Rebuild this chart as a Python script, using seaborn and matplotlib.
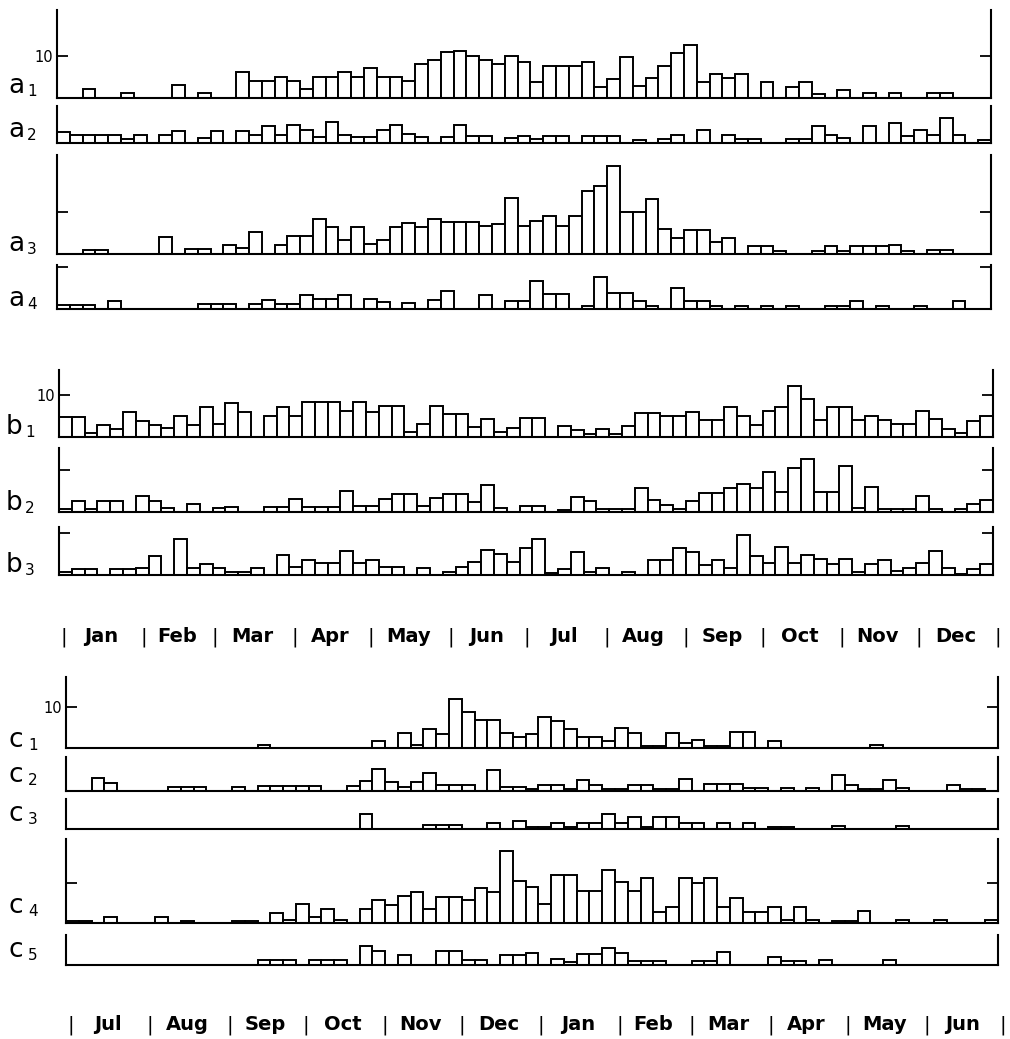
import numpy as np
import pandas as pd
import matplotlib
matplotlib.use("Agg")
import matplotlib.pyplot as plt
import seaborn as sns

# ---- data: counts per 5-day period (73 pentads) ----
a1 = [0,0,2,0,0,1,0,0,0,3,0,1,0,0,6,4,4,5,4,2,5,5,6,5,7,5,5,4,8,9,11,11.2,10,9,8,10,
      8.5,3.7,7.6,7.6,7.6,8.5,2.6,4.4,9.8,2.8,4.6,7.5,10.7,12.7,3.6,5.6,4.6,5.6,0,3.6,0,2.6,3.8,0.8,0,1.7,0,1,0,1,0,0,1,1,0,0,0]
a2 = [2.6,1.8,1.8,1.8,1.8,1,1.8,0,1.8,2.8,0,1.2,2.8,0,2.8,2,4,2,4.2,3,1.4,5,2,1.4,1.4,3,4.2,2.2,1.4,0,1.4,4.4,1.6,1.6,0,1.2,
      1.6,1,1.6,1.6,0,1.6,1.6,1.6,0,0.8,0,1,1.8,0,3,0,2,1,1,0,0,1,1,4,2,1.2,0,4,0,4.8,1.6,3,1.8,6,1.8,0,0.6]
a3 = [0,0,1,1,0,0,0,0,4,0,1.2,1.2,0,2.2,1.4,5.2,0,2.2,4.2,4.2,8.4,6.4,3.4,6.4,2.4,3.4,6.4,7.4,6.4,8.5,7.6,7.6,7.6,6.6,7.3,13.4,
      6.8,7.8,9,6.8,9,15,16.2,21,10,10,13.2,5.9,3.8,5.8,5.8,2.8,3.8,0,2,2,0.8,0,0,0.6,2,0.8,2,2,2,2.1,0.8,0,0.9,0.9,0,0,0]
a4 = [0.9,0.9,0.9,0,2,0,0,0,0,0,0,1.2,1.2,1.2,0,1.2,2.2,1.2,1.2,3.3,2.4,2.4,3.3,0,2.4,1.6,0,1.4,0,2.2,4.2,0,0,3.3,0,2,
      1.8,6.8,3.6,3.6,0,0.6,7.6,3.8,3.8,2,0.8,0,5,2,2,0.8,0,0.8,0,0.6,0,0.6,0,0,0.6,0.6,1.8,0,0.7,0,0,0.6,0,0,1.8,0,0]
b1 = [4.7,4.7,0.9,2.8,1.7,5.8,3.8,2.8,2,4.9,2.8,7.1,3.1,8.1,5.9,0,4.9,7.1,5,8.3,8.3,8.3,6.2,8.2,5.9,7.3,7.3,1.1,3.1,7.3,5.3,5.3,2.2,4.2,1.1,2,
      4.5,4.5,0,2.6,1.6,0.6,1.8,0.6,2.6,5.6,5.6,4.9,4.9,5.8,4,4,7,4.8,2.8,6,7,12,9.1,3.9,7.1,7.1,4,4.9,4,3,3,6,4.1,1.9,0.9,3.8,4.8]
b2 = [0.6,2.6,0.6,2.6,2.6,0,3.8,2.6,0.9,0,1.8,0,0.9,1,0,0,1,1,3.1,1,1,1,5,1.2,1.2,3.1,4.2,4.2,1.2,3.3,4.3,4.3,2.3,6.4,0.8,0,
      1.4,1.4,0,0.4,3.5,2.5,0.6,0.6,0.6,5.6,2.8,1.6,0.7,2.6,4.4,4.4,5.6,6.7,5.6,9.5,4.6,10.5,12.7,4.6,4.6,10.8,0.8,5.8,0.5,0.5,0.5,3.7,0.6,0,0.6,1.8,2.8]
b3 = [0.6,1.5,1.5,0,1.4,1.4,1.6,4.6,0,8.7,1.6,2.7,1.7,0.7,0.7,1.6,0,4.8,1.8,3.6,2.8,2.8,5.8,2.9,3.7,1.8,1.8,0,1.7,0,0.6,1.8,3,6,5,3,
      6.5,8.7,0.5,1.5,5.6,0.7,1.6,0,0.6,0,3.6,3.6,6.5,5.6,2.5,3.6,1.6,9.6,4.6,2.8,6.8,2.8,4.8,3.8,2.7,3.8,0.7,2.6,3.7,1,1.6,2.8,5.8,1.6,0.3,1.4,2.6]
c1 = [0,0,0,0,0,0,0,0,0,0,0,0,0,0,0,0.5,0,0,0,0,0,0,0,0,1.5,0,3.5,0.6,4.5,3.4,12,8.8,6.7,6.7,3.5,2.5,
      3.4,7.5,6.6,4.5,2.5,2.5,1.5,4.8,3.7,0.4,0.4,3.7,1,1.8,0.4,0.4,3.8,3.8,0,1.7,0,0,0,0,0,0,0,0.6,0,0,0,0,0,0,0,0,0]
c2 = [0,0,3.2,2.1,0,0,0,0,1.1,1.1,1.1,0,0,1.1,0,1.2,1.2,1.2,1.2,1.2,0,0,1.2,2.5,5.6,2.3,1.1,2.3,4.6,1.5,1.5,1.5,0,5.3,1.1,1.1,
      0.5,1.5,1.5,0.6,2.7,1.4,0.5,0.5,1.5,1.5,0.5,0.5,2.9,0,1.7,1.7,1.7,0.8,0.8,0,0.8,0,0.8,0,4,1.5,0.6,0.6,2.7,0.7,0,0,0,1.5,0.6,0.6,0]
c3 = [0,0,0,0,0,0,0,0,0,0,0,0,0,0,0,0,0,0,0,0,0,0,0,3.8,0,0,0,0,1.1,1.1,1.1,0,0,1.5,0,2,
      0.4,0.5,1.6,0.5,1.6,1.6,3.8,1.6,3,0.5,3.1,3.1,1.6,1.6,0,1.6,0,1.6,0,0.6,0.6,0,0,0,0.7,0,0,0,0,0.7,0,0,0,0,0,0,0]
c4 = [0.6,0.6,0,1.4,0,0,0,1.4,0,0.6,0,0,0,0.6,0.6,0,2.6,0.7,4.7,1.5,3.6,0.7,0,3.5,5.7,4.6,6.7,7.8,3.5,6.6,6.6,5.8,8.8,7.7,18,10.5,
      9,4.8,12,12,8,8,13.3,10.2,8,11.2,2.7,4.1,11.2,10,11.2,3.9,6.2,2.8,2.8,4.1,0.8,4,0.7,0,0.6,0.6,2.9,0,0,0.8,0,0,0.7,0,0,0,0.8]
c5 = [0,0,0,0,0,0,0,0,0,0,0,0,0,0,0,1.2,1.2,1.2,0,1.2,1.2,1.2,0,4.8,3.6,0,2.5,0,0,3.6,3.6,1.2,1.2,0,2.5,2.5,
      3,0,1.5,0.7,2.7,2.7,4.2,3,0.9,0.9,0.9,0,0,0.9,0.9,3.3,0,0,0,2,1,1,0,1.2,0,0,0,0,1.3,0,0,0,0,0,0,0,0]

months_top = ["Jan","Feb","Mar","Apr","May","Jun","Jul","Aug","Sep","Oct","Nov","Dec"]
days_top = [31,28,31,30,31,30,31,31,30,31,30,31]
months_bot = ["Jul","Aug","Sep","Oct","Nov","Dec","Jan","Feb","Mar","Apr","May","Jun"]
days_bot = [31,31,30,31,30,31,31,28,31,30,31,30]

# ---- layout ----
sns.set_theme(style="ticks")
plt.rcParams["font.family"] = ["DejaVu Sans"]
plt.rcParams["text.color"] = "black"
plt.rcParams["ytick.color"] = "black"
plt.rcParams["ytick.labelcolor"] = "black"

W, H = 1010, 1039
fig = plt.figure(figsize=(W / 100, H / 100), dpi=100)
fig.patch.set_facecolor("white")

# letter, subscript, data, x0, x1, ytop, ybase, px per unit, label baseline y, label x
panels = [
    ("a", "1", a1, 57, 991, 10, 97.5, 4.17, 93, 8),
    ("a", "2", a2, 57, 991, 106, 143, 4.17, 137, 8),
    ("a", "3", a3, 57, 991, 155, 254, 4.17, 251, 8),
    ("a", "4", a4, 57, 991, 265, 309, 4.17, 306, 8),
    ("b", "1", b1, 59, 993, 370, 436.5, 4.17, 434, 6),
    ("b", "2", b2, 59, 993, 448, 511.5, 4.17, 510, 6),
    ("b", "3", b3, 59, 993, 527, 575, 4.17, 572, 6),
    ("c", "1", c1, 66, 998, 677, 747.5, 4.03, 747, 9),
    ("c", "2", c2, 66, 998, 757, 791, 4.0, 782, 9),
    ("c", "3", c3, 66, 998, 799, 829, 4.0, 821, 9),
    ("c", "4", c4, 66, 998, 839, 923, 4.0, 913, 9),
    ("c", "5", c5, 66, 998, 935, 965, 4.0, 957, 9),
]

show_label10 = {("a", "1"), ("b", "1"), ("c", "1")}

for letter, sub, vals, x0, x1, ytop, ybase, ppu, lab_y, lab_x in panels:
    ax = fig.add_axes([x0 / W, 1 - ybase / H, (x1 - x0) / W, (ybase - ytop) / H])
    df = pd.DataFrame({"pentad": np.arange(len(vals)), "count": vals})
    sns.barplot(data=df, x="pentad", y="count", width=1.0, color="white",
                edgecolor="black", linewidth=1.4, saturation=1,
                errorbar=None, ax=ax)
    ax.set_xlim(-0.5, len(vals) - 0.5)
    ymax = (ybase - ytop) / ppu
    ax.set_ylim(0, ymax)
    ax.set_xlabel("")
    ax.set_ylabel("")
    ax.set_xticks([])
    ax.set_facecolor("none")
    ax.spines["top"].set_visible(False)
    for s in ["left", "right", "bottom"]:
        ax.spines[s].set_linewidth(1.5)
        ax.spines[s].set_color("black")
    if ymax >= 10:
        ax.set_yticks([10])
        ax.set_yticklabels(["10"] if (letter, sub) in show_label10 else [""])
    else:
        ax.set_yticks([])
    ax.tick_params(axis="y", direction="in", length=8, width=1.3,
                   left=True, right=True, labelsize=10.5, pad=3,
                   colors="black")
    fig.text(lab_x / W, 1 - lab_y / H, letter, fontsize=19, ha="left",
             va="baseline", color="black")
    fig.text((lab_x + 19) / W, 1 - (lab_y + 3) / H, sub, fontsize=11,
             ha="left", va="baseline", color="black")


def month_row(x0, x1, yc, names, lengths):
    axm = fig.add_axes([x0 / W, 1 - (yc + 12) / H, (x1 - x0) / W, 24 / H])
    axm.set_xlim(0, sum(lengths))
    axm.set_ylim(0, 1)
    axm.axis("off")
    edges = np.concatenate([[0], np.cumsum(lengths)])
    for e in edges:
        axm.text(e + 2, 0.5, "|", ha="center", va="center", fontsize=14,
                 color="black")
    for name, a, b in zip(names, edges[:-1], edges[1:]):
        axm.text((a + b) / 2 + 1, 0.5, name, ha="center", va="center",
                 fontsize=14, fontweight="bold", color="black")


month_row(59, 993, 637, months_top, days_top)
month_row(66, 998, 1025, months_bot, days_bot)

fig.savefig("out.png", dpi=100, facecolor="white")
